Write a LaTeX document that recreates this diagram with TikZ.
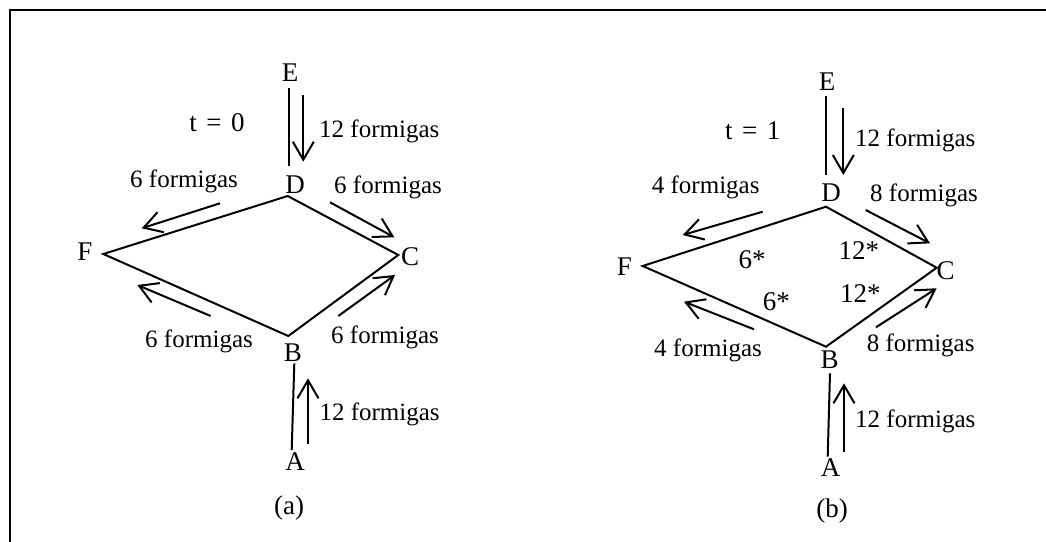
\documentclass[tikz,border=0pt]{standalone}
\usepackage{fontspec}
\setmainfont{Liberation Serif}
\usetikzlibrary{arrows.meta}
\begin{document}
\begin{tikzpicture}[x=1pt,y=-1pt,
  lbl/.style={inner sep=0pt,anchor=base,font=\fontsize{25}{30}\selectfont},
  lblw/.style={lbl,anchor=base west},
  big/.style={font=\fontsize{27}{32}\selectfont},
  edge/.style={line width=2pt},
  flow/.style={line width=2pt,-{Straight Barb[length=18pt,width=21pt]}},
  frame/.style={line width=2.5pt}]
\useasboundingbox (0,0) rectangle (1046,541);
% frame
\coordinate (fr1) at (10,545);
\coordinate (fr2) at (10,10);
\coordinate (fr3) at (1050,10);
\draw[frame] (fr1) -- (fr2) -- (fr3);

% ---------------- (a) ----------------
\node[lbl,big] (aE) at (290,81.7) {E};
\node[lbl,big] (at) at (217,131.7) {t\hspace{0.35em}=\hspace{0.35em}0};
\node[lblw] (aed) at (319,137.7) {12 formigas};
\node[lblw] (adf) at (130,187.7) {6 formigas};
\node[lbl,big] (aDl) at (295,193.3) {D};
\node[lblw] (adc) at (334,193.3) {6 formigas};
\node[lbl,big] (aFl) at (85,260) {F};
\node[lbl,big] (aCl) at (410,265) {C};
\node[lblw] (abf) at (145,347.3) {6 formigas};
\node[lblw] (abc) at (331,343.3) {6 formigas};
\node[lbl,big] (aBl) at (293,361) {B};
\node[lblw] (aab) at (319.3,420) {12 formigas};
\node[lbl,big] (aAl) at (295,470) {A};
\node[lbl,big] (acap) at (289,514) {(a)};

\coordinate (aD) at (287.7,196);
\coordinate (aF) at (103.3,254);
\coordinate (aC) at (398.3,255);
\coordinate (aB) at (288.3,336);
\draw[edge] (aD) -- (aF) -- (aB) -- (aC) -- cycle;

\coordinate (aE1) at (289.3,87.7);
\coordinate (aE2) at (289.3,166);
\draw[edge] (aE1) -- (aE2);
\coordinate (aB1) at (294.3,363.3);
\coordinate (aA1) at (291.7,450);
\draw[edge] (aB1) -- (aA1);

\coordinate (afed1) at (303.3,95);
\coordinate (afed2) at (303.3,161.7);
\draw[flow] (afed1) -- (afed2);
\coordinate (afdf1) at (220,203.3);
\coordinate (afdf2) at (141.7,228.3);
\draw[flow] (afdf1) -- (afdf2);
\coordinate (afdc1) at (330,202.3);
\coordinate (afdc2) at (394.3,237.3);
\draw[flow] (afdc1) -- (afdc2);
\coordinate (afbf1) at (210.7,316);
\coordinate (afbf2) at (137.3,285);
\draw[flow] (afbf1) -- (afbf2);
\coordinate (afbc1) at (338.3,316);
\coordinate (afbc2) at (395,275);
\draw[flow] (afbc1) -- (afbc2);
\coordinate (afab1) at (308,444);
\coordinate (afab2) at (308,378.3);
\draw[flow] (afab1) -- (afab2);

% ---------------- (b) ----------------
\node[lbl,big] (bE) at (827,90) {E};
\node[lbl,big] (bt) at (752.7,139.3) {t\hspace{0.35em}=\hspace{0.35em}1};
\node[lblw] (bed) at (855,146) {12 formigas};
\node[lblw] (bdf) at (651.7,193.3) {4 formigas};
\node[lbl,big] (bDl) at (831,201.7) {D};
\node[lblw] (bdc) at (870,201.7) {8 formigas};
\node[lbl,big] (bFl) at (624.3,275) {F};
\node[lbl,big] (bCl) at (945.7,279.3) {C};
\node[lblw,big] (bp1) at (738.3,268.3) {6*};
\node[lblw,big] (bp2) at (838.3,259.3) {12*};
\node[lblw,big] (bp3) at (762.7,310) {6*};
\node[lblw,big] (bp4) at (840,302.7) {12*};
\node[lblw] (bbf) at (654,356.7) {4 formigas};
\node[lblw] (bbc) at (866.7,351.7) {8 formigas};
\node[lbl,big] (bBl) at (829.7,368.3) {B};
\node[lblw] (bab) at (855,427.3) {12 formigas};
\node[lbl,big] (bAl) at (830.7,476.7) {A};
\node[lbl,big] (bcap) at (832,517) {(b)};

\coordinate (bD) at (826,206.7);
\coordinate (bF) at (642.7,266);
\coordinate (bC) at (936.7,267.7);
\coordinate (bB) at (826,346.7);
\draw[edge] (bD) -- (bF) -- (bB) -- (bC) -- cycle;

\coordinate (bE1) at (826,96);
\coordinate (bE2) at (826,175);
\draw[edge] (bE1) -- (bE2);
\coordinate (bB1) at (830,373.3);
\coordinate (bA1) at (827.7,456.7);
\draw[edge] (bB1) -- (bA1);

\coordinate (bfed1) at (843.3,107.7);
\coordinate (bfed2) at (843.3,175);
\draw[flow] (bfed1) -- (bfed2);
\coordinate (bfdf1) at (762.7,211.7);
\coordinate (bfdf2) at (682.7,235);
\draw[flow] (bfdf1) -- (bfdf2);
\coordinate (bfdc1) at (865.7,210);
\coordinate (bfdc2) at (930,243.3);
\draw[flow] (bfdc1) -- (bfdc2);
\coordinate (bfbf1) at (754,329.3);
\coordinate (bfbf2) at (684,301.7);
\draw[flow] (bfbf1) -- (bfbf2);
\coordinate (bfbc1) at (876,327.3);
\coordinate (bfbc2) at (936.7,288.3);
\draw[flow] (bfbc1) -- (bfbc2);
\coordinate (bfab1) at (844,452.3);
\coordinate (bfab2) at (844,383.3);
\draw[flow] (bfab1) -- (bfab2);
\end{tikzpicture}
\end{document}
